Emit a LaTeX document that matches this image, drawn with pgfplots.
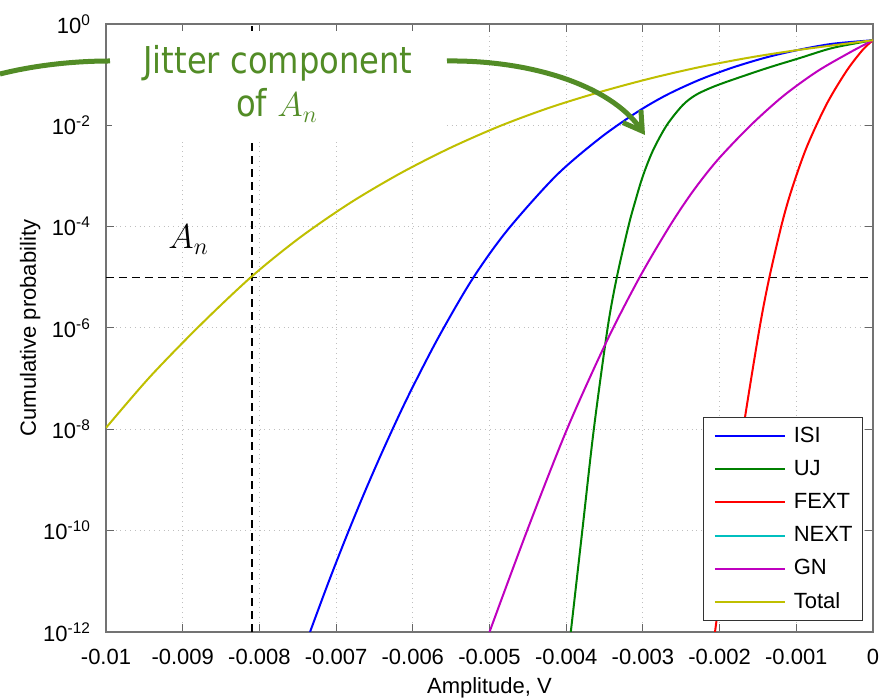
\documentclass[border=0pt]{standalone}
\usepackage{fontspec}
\setmainfont{Liberation Sans}
\newfontfamily\annfont[FakeStretch=0.87]{DejaVu Sans}
\usepackage{pgfplots}
\pgfplotsset{compat=1.18}
\usetikzlibrary{arrows.meta}
\definecolor{isiC}{RGB}{0,0,255}
\definecolor{ujC}{RGB}{0,128,0}
\definecolor{fextC}{RGB}{255,0,0}
\definecolor{nextC}{RGB}{0,191,191}
\definecolor{gnC}{RGB}{191,0,191}
\definecolor{totC}{RGB}{191,191,0}
\definecolor{annG}{RGB}{82,140,38}

\begin{document}
\begin{tikzpicture}
\begin{axis}[
    at={(0,0)}, anchor=south west,
    scale only axis, width=383.5pt, height=304pt,
    ymode=log, log basis y=10,
    xmin=-0.01, xmax=0, ymin=1e-12, ymax=1,
    xtick={-0.01,-0.009,-0.008,-0.007,-0.006,-0.005,-0.004,-0.003,-0.002,-0.001,0},
    xticklabels={-0.01,-0.009,-0.008,-0.007,-0.006,-0.005,-0.004,-0.003,-0.002,-0.001,0},
    ytick={1e-12,1e-10,1e-8,1e-6,1e-4,1e-2,1},
    yticklabels={10\textsuperscript{-12},10\textsuperscript{-10},10\textsuperscript{-8},10\textsuperscript{-6},10\textsuperscript{-4},10\textsuperscript{-2},10\textsuperscript{0}},
    yminorticks=false, scaled x ticks=false,
    tick pos=both, tick align=inside, major tick length=4pt,
    tick style={black!60, line width=0.5pt},
    axis line style={black!55, line width=0.7pt},
    grid=major, major grid style={black!25, dotted, line width=0.5pt},
    ticklabel style={font=\fontsize{11}{13}\selectfont},
    xticklabel shift=5pt, yticklabel shift=4pt,
    label style={font=\fontsize{11}{13}\selectfont},
    xlabel={Amplitude, V},
    ylabel={Cumulative probability},
    xlabel style={at={(axis description cs:0.5,-0.092)}, anchor=center},
    ylabel style={at={(axis description cs:-0.099,0.5)}, anchor=center},
    legend style={at={(0.987,0.018)}, anchor=south east, draw=black!80,
        line width=0.5pt, fill=white, font=\fontsize{11}{13}\selectfont,
        inner xsep=5pt, inner ysep=4.25pt, row sep=6.6pt,
        nodes={inner sep=0pt, text height=8pt, text depth=2pt},
        /tikz/every odd column/.append style={column sep=4pt}},
    legend cell align=left,
    legend image code/.code={\draw[#1] (0pt,0pt) -- (35pt,0pt);},
    every axis plot/.append style={line width=1pt, smooth, tension=0.5},
]
% reference lines
\addplot[black, dash pattern=on 4pt off 2.5pt, line width=0.8pt, forget plot, sharp plot]
    coordinates {(-0.01,1e-5) (0,1e-5)};
\addplot[black, dash pattern=on 4pt off 2.5pt, line width=0.8pt, forget plot, sharp plot]
    coordinates {(-0.0081,1e-12) (-0.0081,1)};

% ISI
\addplot[isiC] coordinates {
    (-0.007340,1e-12) (-0.007099,9.6e-12) (-0.006858,8.2e-11) (-0.006617,6.27e-10)
    (-0.006362,4.76e-9) (-0.006063,4.43e-8) (-0.005671,6.3e-7) (-0.005228,8.99e-6)
    (-0.004772,8.33e-5) (-0.004133,1.01e-3) (-0.003559,5.60e-3) (-0.003077,1.82e-2)
    (-0.002686,4.01e-2) (-0.002256,7.99e-2) (-0.001825,0.139) (-0.001382,0.221)
    (-0.000952,0.313) (-0.000522,0.408) (0,0.478)
};
\addlegendentry{ISI}
% UJ
\addplot[ujC] coordinates {
    (-0.00394,1e-12) (-0.00379,1e-10) (-0.00364,1e-8) (-0.00346,1e-6)
    (-0.00334,1e-5) (-0.00319,1e-4) (-0.00310,3.16e-4) (-0.00300,1e-3)
    (-0.00287,3.16e-3) (-0.00269,1e-2) (-0.00248,2.51e-2) (-0.00231,3.98e-2)
    (-0.00210,5.62e-2) (-0.00185,7.76e-2) (-0.00138,0.1349) (-0.00095,0.2138)
    (-0.00052,0.3388) (0,0.478)
};
\addlegendentry{UJ}
% FEXT
\addplot[fextC] coordinates {
    (-0.002060,1e-12) (-0.001877,1.11e-10) (-0.001695,9.55e-9) (-0.001486,8.65e-7)
    (-0.001356,9.2e-6) (-0.001186,1.17e-4) (-0.001055,5.71e-4) (-0.000860,3.86e-3)
    (-0.000599,2.72e-2) (-0.000339,0.122) (-0.000130,0.314) (0,0.478)
};
\addlegendentry{FEXT}
% NEXT (not visible in the plotted range)
\addlegendimage{nextC, line width=1pt}
\addlegendentry{NEXT}
% GN
\addplot[gnC] coordinates {
    (-0.00500,1e-12) (-0.00451,1e-10) (-0.00399,1e-8) (-0.00347,5.55e-7)
    (-0.00304,1.02e-5) (-0.00265,1.03e-4) (-0.00235,4.94e-4) (-0.00203,2.04e-3)
    (-0.00160,9.84e-3) (-0.00117,3.79e-2) (-0.00073,0.1156) (-0.00030,0.2754) (0,0.478)
};
\addlegendentry{GN}
% Total
\addplot[totC] coordinates {
    (-0.01,1.07e-8) (-0.009426,1.09e-7) (-0.008774,1.13e-6) (-0.0081,1.04e-5)
    (-0.007471,6.11e-5) (-0.006819,2.93e-4) (-0.006167,1.12e-3) (-0.005515,3.57e-3)
    (-0.004863,9.70e-3) (-0.004211,2.25e-2) (-0.003559,4.55e-2) (-0.002907,8.39e-2)
    (-0.002256,0.1416) (-0.001604,0.2183) (-0.000952,0.3105) (0,0.478)
};
\addlegendentry{Total}
\end{axis}

% annotations, in pixel units of the 891x700 frame
\begin{scope}[shift={(-53pt,316pt)}, x=0.5pt, y=-0.5pt]
  \fill[white] (112,31) rectangle (445,138);
  \node[anchor=base, text=annG, inner sep=0pt, font=\annfont\fontsize{18.5}{22}\selectfont]
      at (278,74) {Jitter component};
  \node[anchor=base, text=annG, inner sep=0pt, font=\annfont\fontsize{18.5}{22}\selectfont]
      at (277,117) {of \fontsize{17}{20}\selectfont$A_n$};
  \node[anchor=base west, inner sep=0pt, font=\fontsize{18}{20}\selectfont]
      at (168,249) {$A_n$};
  \draw[annG, line width=2.5pt] (0,74) .. controls (40,64) and (80,61) .. (110,61);
  \draw[annG, line width=2.5pt, -{Straight Barb[length=9pt,width=11pt]}]
      (447,61) .. controls (530,60) and (610,85) .. (645,135);
  \pgfresetboundingbox
  \path[use as bounding box] (0,0) rectangle (891,700);
\end{scope}
\end{tikzpicture}
\end{document}
